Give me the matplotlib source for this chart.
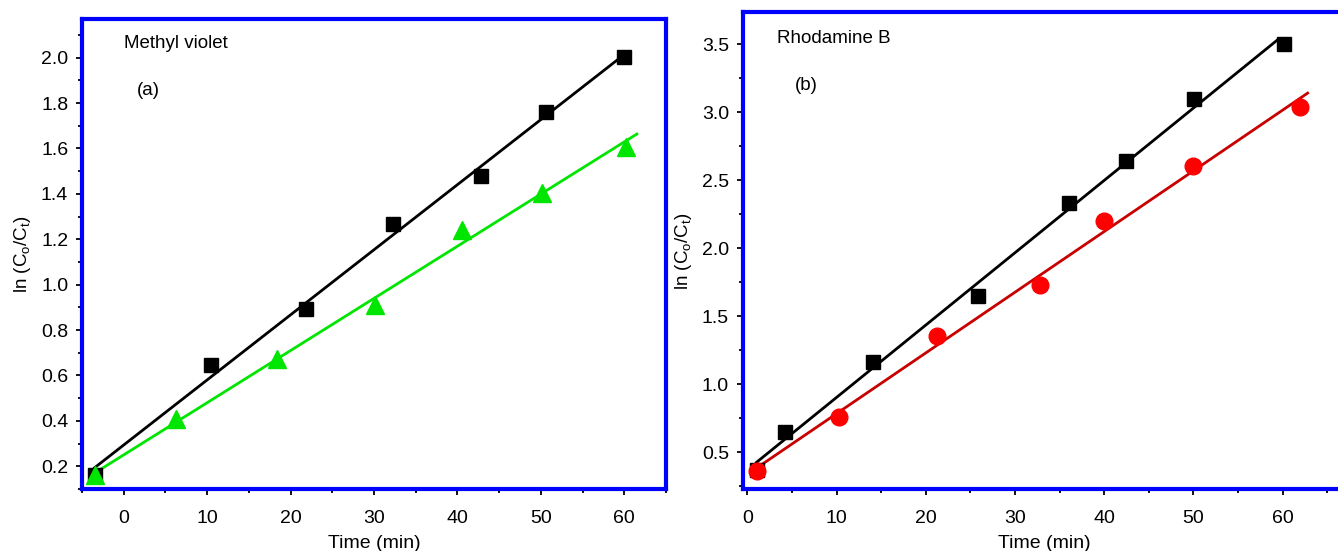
import matplotlib
matplotlib.use("Agg")
import matplotlib.pyplot as plt
import numpy as np
from matplotlib.ticker import MultipleLocator

plt.rcParams['font.family'] = ['Liberation Sans', 'DejaVu Sans']
plt.rcParams['mathtext.fontset'] = 'custom'
plt.rcParams['mathtext.rm'] = 'Liberation Sans'

# (a) Methyl violet
mv_sq_t = [-3.5, 10.5, 21.9, 32.3, 42.8, 50.6, 60.0]
mv_sq_y = [0.16, 0.645, 0.893, 1.267, 1.479, 1.761, 2.004]
mv_tri_t = [-3.4, 6.3, 18.4, 30.1, 40.6, 50.1, 60.2]
mv_tri_y = [0.16, 0.407, 0.672, 0.91, 1.241, 1.404, 1.607]

# (b) Rhodamine B
rb_sq_t = [1.08, 4.2, 14.06, 25.8, 36.1, 42.4, 50.05, 60.1]
rb_sq_y = [0.368, 0.647, 1.162, 1.649, 2.335, 2.644, 3.10, 3.50]
rb_ci_t = [1.05, 10.27, 21.2, 32.8, 40.0, 49.9, 61.95]
rb_ci_y = [0.366, 0.761, 1.354, 1.729, 2.203, 2.606, 3.037]

BLUE = '#0000ff'
GREEN = '#00e600'
RED = '#ff0000'
DARKRED = '#c80000'


def fit_line(ax, t, y, t0, t1, color):
    # least-squares line through the points, drawn over [t0, t1]
    k, b = np.polyfit(t, y, 1)
    tt = np.array([t0, t1])
    ax.plot(tt, k * tt + b, color=color, lw=2, zorder=2)


def style_axes(ax):
    for s in ax.spines.values():
        s.set_color(BLUE)
        s.set_linewidth(3)
    ax.tick_params(which='both', direction='out', color='black', labelsize=14)
    ax.tick_params(which='major', length=4, width=1.3)
    ax.tick_params(which='minor', length=3, width=1.3)
    ax.tick_params(axis='x', which='major', pad=11)
    ax.tick_params(axis='y', which='major', pad=6)
    ax.xaxis.set_major_locator(MultipleLocator(10))
    ax.xaxis.set_minor_locator(MultipleLocator(5))
    ax.set_xlabel('Time (min)', fontsize=14, labelpad=6)
    ax.set_ylabel(r'ln (C$_\mathregular{o}$/C$_\mathregular{t}$)', fontsize=13.5, labelpad=6)


fig = plt.figure(figsize=(13.38, 5.51), dpi=100)

ax1 = fig.add_axes([0.0613, 0.1125, 0.4365, 0.853])
fit_line(ax1, mv_sq_t, mv_sq_y, -3.5, 60, 'black')
fit_line(ax1, mv_tri_t, mv_tri_y, -3.5, 61.5, GREEN)
ax1.plot(mv_sq_t, mv_sq_y, 's', color='black', ms=10.5, zorder=3)
ax1.plot(mv_tri_t, mv_tri_y, '^', color=GREEN, ms=13, zorder=3)
ax1.set_xlim(-5, 65)
ax1.set_ylim(0.1, 2.17)
ax1.yaxis.set_major_locator(MultipleLocator(0.2))
ax1.yaxis.set_minor_locator(MultipleLocator(0.1))
style_axes(ax1)
ax1.text(0.072, 0.947, 'Methyl violet', transform=ax1.transAxes, fontsize=13.5, va='center')
ax1.text(0.094, 0.847, '(a)', transform=ax1.transAxes, fontsize=13.5, va='center')

ax2 = fig.add_axes([0.5553, 0.1125, 0.4500, 0.8655])
fit_line(ax2, rb_sq_t, rb_sq_y, 1.0, 59.5, 'black')
fit_line(ax2, rb_ci_t, rb_ci_y, 1.0, 62.8, DARKRED)
ax2.plot(rb_sq_t, rb_sq_y, 's', color='black', ms=10.5, zorder=3)
ax2.plot(rb_ci_t, rb_ci_y, 'o', color=RED, ms=12, zorder=3)
ax2.set_xlim(-0.5, 67)
ax2.set_ylim(0.23, 3.735)
ax2.yaxis.set_major_locator(MultipleLocator(0.5))
ax2.yaxis.set_minor_locator(MultipleLocator(0.25))
style_axes(ax2)
ax2.text(0.057, 0.945, 'Rhodamine B', transform=ax2.transAxes, fontsize=13.5, va='center')
ax2.text(0.087, 0.847, '(b)', transform=ax2.transAxes, fontsize=13.5, va='center')

fig.savefig('out.png', dpi=100)
